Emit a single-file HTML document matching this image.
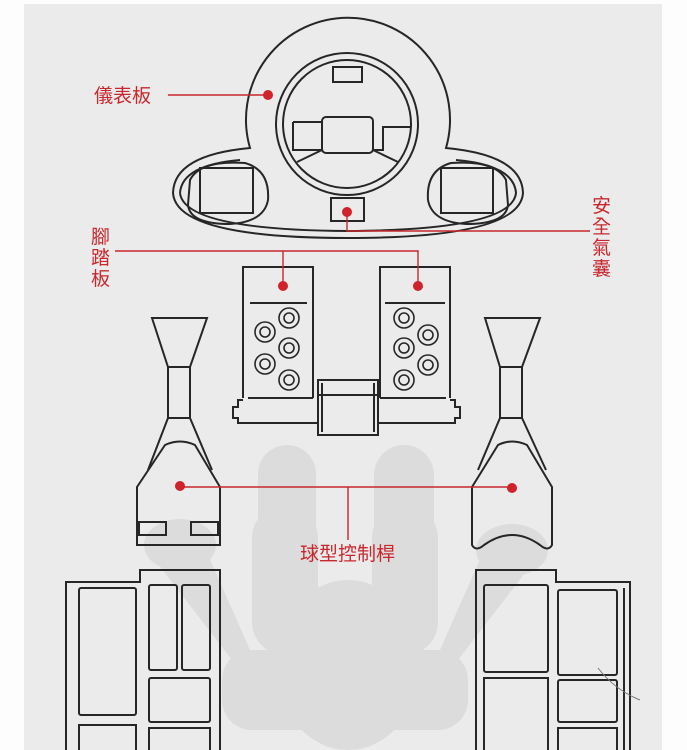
<!DOCTYPE html>
<html><head><meta charset="utf-8"><style>
html,body{margin:0;padding:0;background:#fff;}
svg{display:block;}
text{font-family:"Liberation Sans","Noto Sans CJK TC",sans-serif;fill:#c8282d;font-size:19px;}
</style></head><body>
<svg width="687" height="750" viewBox="0 0 687 750" xmlns="http://www.w3.org/2000/svg">
<rect x="0" y="0" width="687" height="750" fill="#fdfdfd"/>
<rect x="24" y="4" width="638" height="746" fill="#ebebeb"/>
<!-- gray silhouettes -->
<g fill="#dcdcdc">
<rect x="258" y="445" width="58" height="140" rx="29"/>
<rect x="374" y="445" width="60" height="140" rx="30"/>
<rect x="252" y="505" width="66" height="150" rx="33"/>
<rect x="372" y="505" width="66" height="150" rx="33"/>
<polygon points="155,560 205,548 250,650 232,660"/>
<polygon points="535,560 485,548 440,650 458,660"/>
<rect x="222" y="650" width="246" height="80" rx="30"/>
<ellipse cx="348" cy="665" rx="72" ry="85"/>
<ellipse cx="180" cy="545" rx="36" ry="26"/>
<ellipse cx="512" cy="550" rx="36" ry="26"/>
</g>
<g fill="none" stroke="#262626" stroke-width="2">
<path d="M250,148 A102,102 0 1 1 446,148 Q522,155 523,193 Q520,238 348,238 Q176,238 173,193 Q174,155 250,148 Z"/>
<path d="M180,193 Q182,165 240,160 M456,160 Q514,165 516,193 Q512,230 348,231 Q184,230 180,193"/>
<circle cx="347" cy="124" r="71"/>
<circle cx="347" cy="124" r="64"/>
<rect x="333" y="67" width="29" height="15"/>
<rect x="322" y="117" width="51" height="36" rx="4"/>
<path d="M293,122 H322 M293,122 V150 H322 M410,127 H383 V150 H373 M322,150 L297,162 M373,150 L398,162"/>
<path d="M190,180 Q200,160 245,163 Q270,170 268,200 Q264,222 230,224 Q190,224 188,205 Z"/>
<rect x="200" y="168" width="53" height="45"/>
<path d="M506,180 Q496,160 451,163 Q426,170 428,200 Q432,222 466,224 Q506,224 508,205 Z"/>
<rect x="441" y="168" width="52" height="45"/>
<rect x="331" y="198" width="33" height="23"/>
<path d="M243,398 V267 H313 V398"/>
<path d="M250,303 H307 M248,398 H313"/>
<path d="M380,398 V267 H450 V398"/>
<path d="M385,303 H445 M380,398 H446"/>
<path d="M243,400 H238 V407 H233 V418 H238 V423 H318 M378,423 H455 V418 H460 V407 H455 V400 H450"/>
<rect x="318" y="380" width="60" height="55"/>
<path d="M322,383 V432 M374,383 V432 M318,395 H378"/>
<g stroke-width="1.6">
<circle cx="289" cy="318" r="10"/><circle cx="289" cy="318" r="5"/>
<circle cx="265" cy="332" r="10"/><circle cx="265" cy="332" r="5"/>
<circle cx="289" cy="348" r="10"/><circle cx="289" cy="348" r="5"/>
<circle cx="265" cy="364" r="10"/><circle cx="265" cy="364" r="5"/>
<circle cx="289" cy="380" r="10"/><circle cx="289" cy="380" r="5"/>
<circle cx="404" cy="318" r="10"/><circle cx="404" cy="318" r="5"/>
<circle cx="428" cy="335" r="10"/><circle cx="428" cy="335" r="5"/>
<circle cx="404" cy="348" r="10"/><circle cx="404" cy="348" r="5"/>
<circle cx="428" cy="365" r="10"/><circle cx="428" cy="365" r="5"/>
<circle cx="404" cy="380" r="10"/><circle cx="404" cy="380" r="5"/>
</g>
<path d="M152,318 H207 L190,367 H168 Z M168,367 V418 H190 V367 M168,418 L148,470 M190,418 L212,470"/>
<path d="M137,487 L165,445 Q180,438 195,445 L220,487 V545 H137 Z"/>
<rect x="139" y="522" width="27" height="13"/><rect x="191" y="522" width="27" height="13"/>
<path d="M485,318 H540 L522,367 H500 Z M500,367 V418 H522 V367 M500,418 L478,470 M522,418 L546,470"/>
<path d="M472,487 L498,445 Q512,438 527,445 L552,487 V545 Q548,552 540,545 Q512,525 484,545 Q476,552 472,545 Z"/>
<path d="M66,750 V582 H140 V570 H220 V750"/>
<rect x="79" y="588" width="57" height="127" rx="2"/>
<rect x="149" y="585" width="28" height="85" rx="2"/>
<rect x="182" y="585" width="28" height="85" rx="2"/>
<rect x="149" y="678" width="61" height="44" rx="2"/>
<path d="M79,750 V725 H136 V750 M149,750 V728 H210 V750"/>
<path d="M476,750 V570 H556 V582 H630 V750 M624,588 V750"/>
<rect x="484" y="585" width="64" height="87" rx="2"/>
<rect x="558" y="590" width="59" height="85" rx="2"/>
<path d="M484,750 V678 H548 V750"/>
<rect x="558" y="680" width="59" height="42" rx="2"/>
<path d="M558,750 V728 H617 V750"/>
</g>
<path d="M598,668 Q615,690 640,700" fill="none" stroke="#777" stroke-width="1"/>
<g stroke="#c8282d" stroke-width="1.4" fill="none">
<path d="M168,95 H268"/>
<path d="M347,212 V231 H590"/>
<path d="M115,251 H418 V286 M283,251 V286"/>
<path d="M180,487 H512 M348,487 V540"/>
</g>
<g fill="#d0222a">
<circle cx="268" cy="95" r="5"/>
<circle cx="347" cy="212" r="5"/>
<circle cx="283" cy="286" r="5"/>
<circle cx="418" cy="286" r="5"/>
<circle cx="180" cy="486" r="5"/>
<circle cx="512" cy="488" r="5"/>
</g>
<text x="94" y="102">儀表板</text>
<text x="592" y="212">安</text><text x="592" y="233">全</text><text x="592" y="254">氣</text><text x="592" y="275">囊</text>
<text x="91" y="243">腳</text><text x="91" y="264">踏</text><text x="91" y="285">板</text>
<text x="300" y="560">球型控制桿</text>
</svg>
</body></html>
